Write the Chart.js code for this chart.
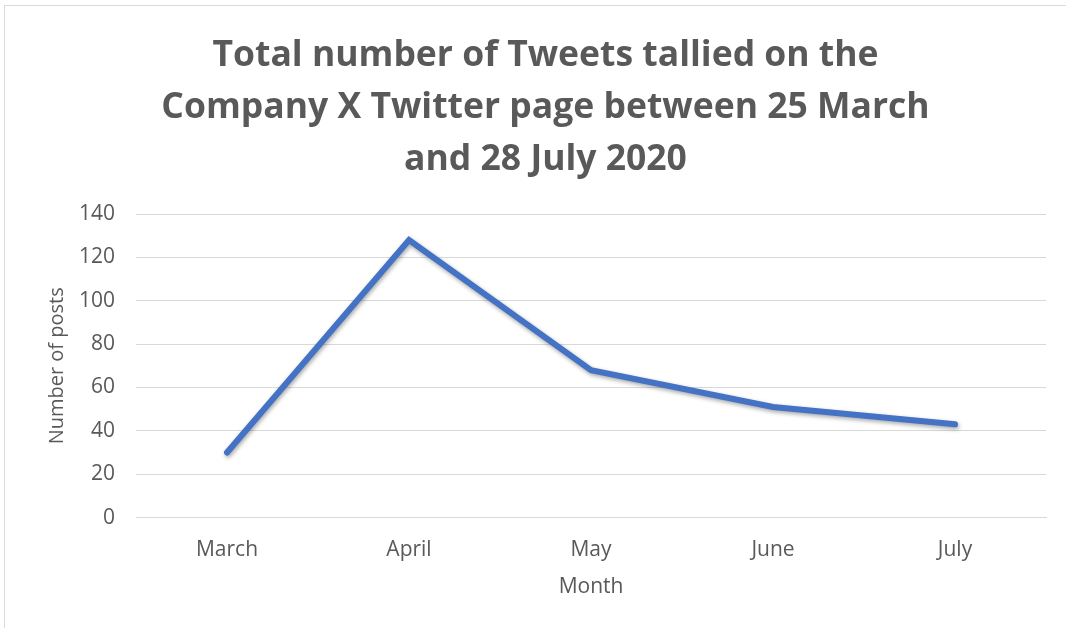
<!DOCTYPE html>
<html>
<head>
<meta charset="utf-8">
<script src="https://cdn.jsdelivr.net/npm/chart.js@4"></script>
<style>
  html, body { margin:0; padding:0; background:#fff; }
  #wrap { position:absolute; left:0; top:0; width:1066px; height:628px; overflow:hidden; }
  #frame { position:absolute; left:4px; top:5px; width:1080px; height:640px; border:1px solid #d9d9d9; box-sizing:border-box; }
  canvas { position:absolute; left:0; top:0; }
</style>
</head>
<body>
<div id="wrap">
  <div id="frame"></div>
  <canvas id="c" width="1066" height="628"></canvas>
</div>
<script>
const categories = ["March", "April", "May", "June", "July"];
const posts = [30, 128, 68, 51, 43];
const yTicks = { min: 0, max: 140, step: 20 };
const titleLines = ["Total number of Tweets tallied on the", "Company X Twitter page between 25 March", "and 28 July 2020"];

const shadowPlugin = {
  id: 'lineShadow',
  beforeDatasetsDraw(chart) {
    const ctx = chart.ctx;
    ctx.save();
    ctx.shadowColor = 'rgba(0,0,0,0.35)';
    ctx.shadowBlur = 4;
    ctx.shadowOffsetX = 1;
    ctx.shadowOffsetY = 2;
  },
  afterDatasetsDraw(chart) {
    chart.ctx.restore();
  }
};

const grey = '#595959';
const fam = "'Open Sans', sans-serif";
new Chart(document.getElementById('c'), {
  type: 'line',
  data: {
    labels: categories,
    datasets: [{
      data: posts,
      borderColor: '#4472C4',
      borderWidth: 6,
      borderCapStyle: 'round',
      borderJoinStyle: 'miter',
      pointRadius: 0,
      tension: 0,
      fill: false
    }]
  },
  options: {
    responsive: false,
    animation: false,
    layout: { padding: { top: 30, right: 20, left: 45, bottom: 28 } },
    plugins: {
      legend: { display: false },
      tooltip: { enabled: false },
      title: {
        display: true,
        text: titleLines,
        color: grey,
        font: { family: fam, size: 35.5, weight: 'bold', lineHeight: 52 / 35.5 },
        padding: { top: 0, bottom: 28 }
      }
    },
    scales: {
      x: {
        offset: true,
        grid: { display: false, drawTicks: false },
        border: { display: true, color: '#d9d9d9', width: 1 },
        ticks: { color: grey, font: { family: fam, size: 21 }, padding: 20 },
        title: { display: true, text: 'Month', color: grey, font: { family: fam, size: 21 }, padding: { top: -8, bottom: 0 } }
      },
      y: {
        min: yTicks.min, max: yTicks.max,
        grid: { color: '#d9d9d9', lineWidth: 1, drawTicks: false },
        border: { display: false },
        ticks: { stepSize: yTicks.step, color: grey, font: { family: fam, size: 21 }, padding: 21 },
        title: { display: true, text: 'Number of posts', color: grey, font: { family: fam, size: 20 }, padding: { top: 0, bottom: -11 } }
      }
    }
  },
  plugins: [shadowPlugin]
});
</script>
</body>
</html>
